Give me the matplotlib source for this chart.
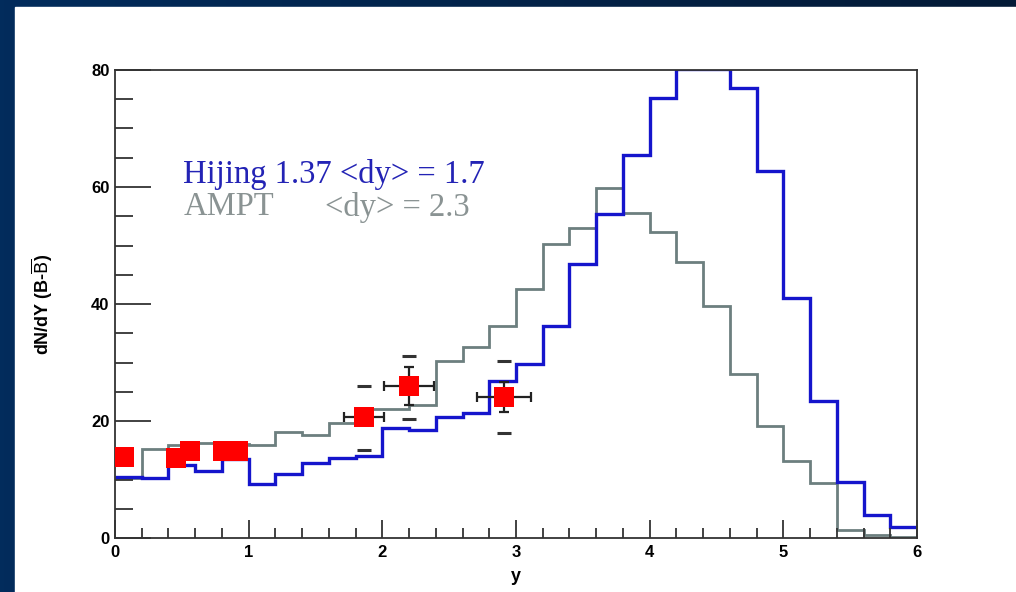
import numpy as np
import matplotlib
matplotlib.use('Agg')
import matplotlib.pyplot as plt
from matplotlib.patches import Rectangle
from matplotlib.ticker import MultipleLocator

# rapidity bins (width 0.2)
bin_edges = np.round(np.arange(0, 6.01, 0.2), 1)

# Hijing 1.37 net baryon dN/dy
hijing = [10.5, 10.2, 12.5, 11.5, 13.5, 9.3, 11.0, 12.8, 13.6, 14.0,
          18.8, 18.5, 20.6, 21.3, 26.9, 29.8, 36.3, 46.8, 55.3, 65.4,
          75.2, 80.2, 80.2, 76.9, 62.7, 41.1, 23.4, 9.5, 4.0, 1.8]

# AMPT net baryon dN/dy
ampt = [10.2, 15.2, 15.9, 16.2, 16.0, 15.9, 18.2, 17.6, 19.6, 22.1,
        22.1, 22.7, 30.3, 32.6, 36.2, 42.6, 50.2, 53.0, 59.9, 55.6,
        52.3, 47.2, 39.7, 28.1, 19.1, 13.1, 9.4, 1.4, 0.5, 0.2]

# measured points
data_y = [0.07, 0.455, 0.56, 0.81, 0.92, 1.86, 2.2, 2.91]
data_dndy = [13.9, 13.6, 14.8, 14.9, 14.9, 20.7, 26.0, 24.1]
data_xerr = [0, 0, 0, 0, 0, 0.15, 0.19, 0.2]
data_yerr = [0, 0, 0, 0, 0, 0, 3.2, 2.6]
sys_lo = [15.0, 20.4, 17.9]
sys_hi = [25.9, 31.1, 30.2]
sys_y = data_y[5:]

fig = plt.figure(figsize=(10.16, 5.92), dpi=100)

# dark blue slide frame with white panel
bg = fig.add_axes([0, 0, 1, 1])
grad = np.linspace(0, 1, 256).reshape(1, -1)
cmap = matplotlib.colors.LinearSegmentedColormap.from_list('frame', ['#022c5c', '#041a36'])
bg.imshow(grad, aspect='auto', cmap=cmap, extent=[0, 1, 0, 1])
bg.add_patch(Rectangle((15 / 1016, 0), 1, 1 - 7 / 592, color='white'))
bg.set_xlim(0, 1)
bg.set_ylim(0, 1)
bg.axis('off')

ax = fig.add_axes([115 / 1016, 1 - 538 / 592, 802 / 1016, 468 / 592])
ax.set_facecolor('white')

ax.stairs(ampt, bin_edges, color='#6c7f7f', lw=2.0, baseline=None)
ax.stairs(hijing, bin_edges, color='#1515cc', lw=2.4, baseline=None)

ax.errorbar(data_y, data_dndy, xerr=data_xerr, yerr=data_yerr, fmt='none',
            ecolor='#222222', elinewidth=1.6, capsize=3.5, capthick=1.6, zorder=3)
ax.plot(sys_y, sys_lo, ls='none', marker='_', ms=10, mew=2.2, color='#333333', zorder=3)
ax.plot(sys_y, sys_hi, ls='none', marker='_', ms=10, mew=2.2, color='#333333', zorder=3)
ax.plot(data_y, data_dndy, ls='none', marker='s', ms=14, mfc='#ff0000', mec='#ff0000',
        mew=0, zorder=4)

ax.set_xlim(0, 6)
ax.set_ylim(0, 80)
ax.xaxis.set_major_locator(MultipleLocator(1))
ax.xaxis.set_minor_locator(MultipleLocator(0.2))
ax.yaxis.set_major_locator(MultipleLocator(20))
ax.yaxis.set_minor_locator(MultipleLocator(5))
ax.tick_params(which='both', direction='in', top=False, right=False, width=1.3, color='#333333')
ax.tick_params(axis='x', which='major', length=13, pad=5)
ax.tick_params(axis='x', which='minor', length=7)
ax.tick_params(axis='y', which='major', length=26, pad=4)
ax.tick_params(axis='y', which='minor', length=13)
for lab in ax.get_xticklabels() + ax.get_yticklabels():
    lab.set_fontfamily('Liberation Sans')
    lab.set_fontweight('bold')
    lab.set_fontsize(12)
for sp in ax.spines.values():
    sp.set_linewidth(1.3)
    sp.set_color('#333333')

ax.set_xlabel('y', fontfamily='Liberation Sans', fontweight='bold', fontsize=13)
ax.xaxis.set_label_coords(0.5, -0.065)
ax.set_ylabel(r'dN/dY (B-$\overline{\mathrm{B}}$)', fontfamily='Liberation Sans',
              fontweight='bold', fontsize=13)
ax.yaxis.set_label_coords(-0.075, 0.5)

ax.text(0.085, 0.777, 'Hijing 1.37 <dy> = 1.7', transform=ax.transAxes, color='#2323b5',
        fontfamily='Liberation Serif', fontsize=23.5, va='center', ha='left')
ax.text(0.085, 0.707, 'AMPT', transform=ax.transAxes, color='#8a9393',
        fontfamily='Liberation Serif', fontsize=23.5, va='center', ha='left')
ax.text(0.262, 0.707, '<dy> = 2.3', transform=ax.transAxes, color='#8a9393',
        fontfamily='Liberation Serif', fontsize=23.5, va='center', ha='left')

fig.savefig('out.png', dpi=100)
